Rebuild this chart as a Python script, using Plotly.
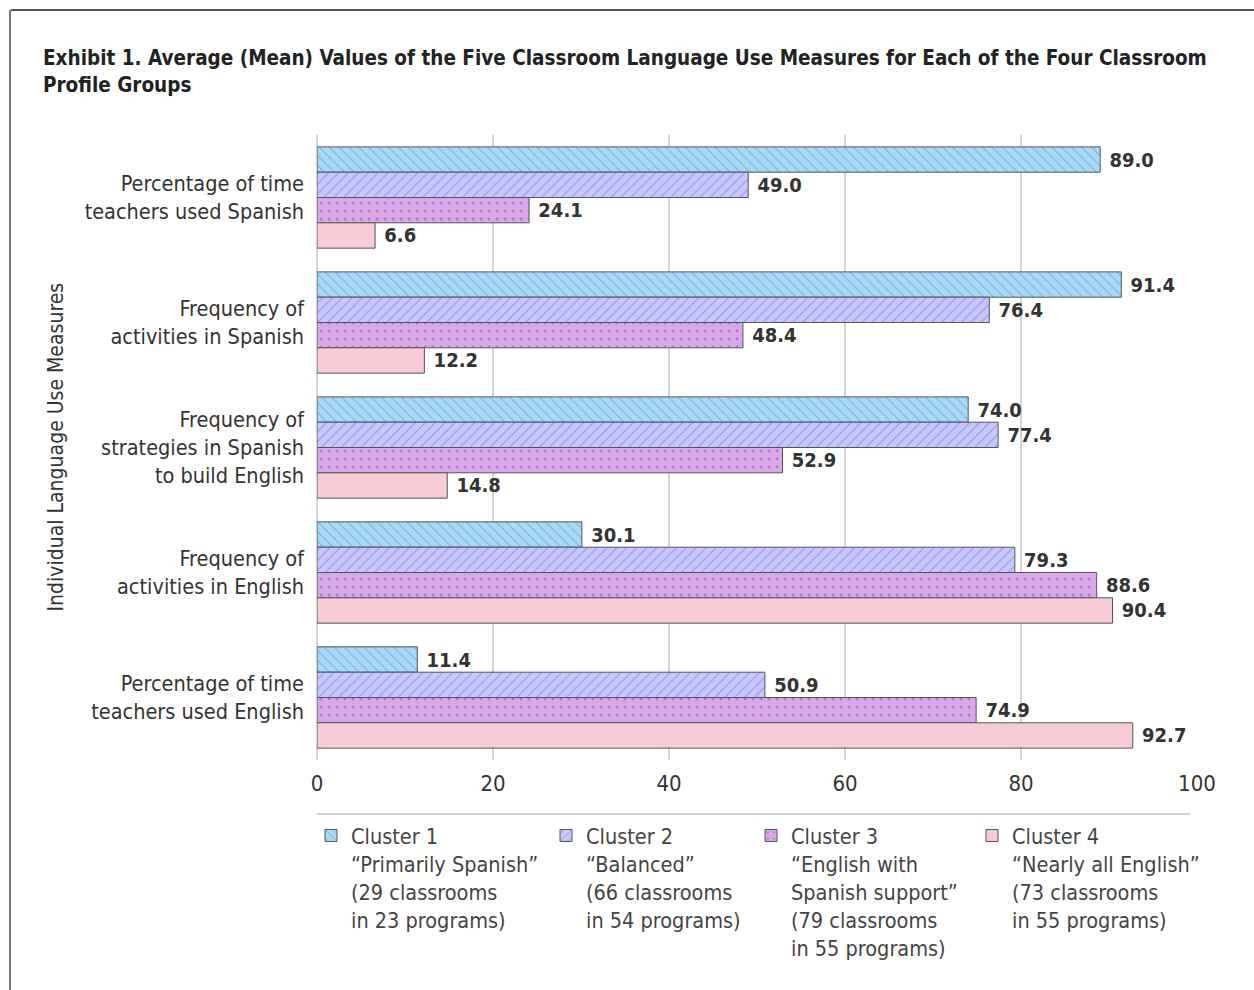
import plotly.graph_objects as go

categories = [
    "Percentage of time<br>teachers used Spanish",
    "Frequency of<br>activities in Spanish",
    "Frequency of<br>strategies in Spanish<br>to build English",
    "Frequency of<br>activities in English",
    "Percentage of time<br>teachers used English",
]
cluster1 = [89.0, 91.4, 74.0, 30.1, 11.4]
cluster2 = [49.0, 76.4, 77.4, 79.3, 50.9]
cluster3 = [24.1, 48.4, 52.9, 88.6, 74.9]
cluster4 = [6.6, 12.2, 14.8, 90.4, 92.7]

series_names = [
    "Cluster 1<br>“Primarily Spanish”<br>(29 classrooms<br>in 23 programs)",
    "Cluster 2<br>“Balanced”<br>(66 classrooms<br>in 54 programs)",
    "Cluster 3<br>“English with<br>Spanish support”<br>(79 classrooms<br>in 55 programs)",
    "Cluster 4<br>“Nearly all English”<br>(73 classrooms<br>in 55 programs)",
]
x_ticks = [0, 20, 40, 60, 80, 100]

FONT = "DejaVu Sans Condensed, Liberation Sans Narrow, sans-serif"

# plot area in pixels
L, R, T, B = 317, 1197, 135, 760
W, H = 1254, 990
PW, PH = R - L, B - T


def px_x(px):
    return (px - L) / PW


def px_y(py):
    return (B - py) / PH


styles = [
    dict(color="#a8daf8", pattern=dict(shape="\\", fgcolor="#4a82b8", size=7, solidity=0.15)),
    dict(color="#c8c8ff", pattern=dict(shape="/", fgcolor="#5858e0", size=7, solidity=0.15)),
    dict(color="#d8a8e8", pattern=dict(shape=".", fgcolor="#8a40a8", size=8, solidity=0.1)),
    dict(color="#f7ccd6", pattern=None),
]
values = [cluster1, cluster2, cluster3, cluster4]
legend_ids = ["legend", "legend2", "legend3", "legend4"]
legend_x = [326, 561, 766, 987]

fig = go.Figure()
for i in range(4):
    marker = dict(color=styles[i]["color"], line=dict(color="#555555", width=1))
    if styles[i]["pattern"]:
        marker["pattern"] = styles[i]["pattern"]
    fig.add_trace(go.Bar(
        y=categories,
        x=values[i],
        orientation="h",
        name=series_names[i],
        marker=marker,
        texttemplate=" %{x:.1f}",
        textposition="outside",
        textfont=dict(family=FONT, size=20, color="#333333", weight="bold"),
        cliponaxis=False,
        legend=legend_ids[i],
    ))

layout_legends = {}
for i, lid in enumerate(legend_ids):
    layout_legends[lid] = dict(
        x=px_x(legend_x[i] - 15), y=px_y(815), xanchor="left", yanchor="top",
        xref="paper", yref="paper",
        font=dict(family=FONT, size=21.5, color="#444444"),
        valign="top", bgcolor="rgba(0,0,0,0)", itemwidth=30,
    )

fig.update_layout(
    width=W, height=H,
    margin=dict(l=L, r=W - R, t=T, b=H - B, autoexpand=False),
    paper_bgcolor="white", plot_bgcolor="white",
    barmode="group", bargap=0.19, bargroupgap=0,
    showlegend=True,
    title=dict(
        text="<b>Exhibit 1. Average (Mean) Values of the Five Classroom Language Use Measures for Each of the Four Classroom<br>Profile Groups</b>",
        x=43 / W, xref="container", xanchor="left",
        y=1 - 65 / H, yref="container", yanchor="top",
        font=dict(family=FONT, size=20.5, color="#222222"),
    ),
    xaxis=dict(
        range=[0, 100], tickvals=x_ticks, ticktext=[str(v) for v in x_ticks],
        showgrid=True, gridcolor="#d4d4d4", gridwidth=2,
        zeroline=True, zerolinecolor="#d4d4d4", zerolinewidth=2,
        showline=False, ticks="", ticklabelstandoff=8,
        tickfont=dict(family=FONT, size=22, color="#333333"),
    ),
    yaxis=dict(
        autorange="reversed", showgrid=False, showline=False, ticks="",
        ticklabelstandoff=12,
        tickfont=dict(family=FONT, size=21.5, color="#333333"),
    ),
    **layout_legends,
)

fig.add_annotation(
    text="Individual Language Use Measures", textangle=-90,
    x=px_x(55), y=0.5, xref="paper", yref="paper", showarrow=False,
    xanchor="center", yanchor="middle",
    font=dict(family=FONT, size=21, color="#333333"),
)

# frame lines and legend separator
fig.add_shape(type="line", xref="paper", yref="paper",
              x0=px_x(11), x1=px_x(W + 5), y0=px_y(10), y1=px_y(10),
              line=dict(color="#555555", width=2))
fig.add_shape(type="line", xref="paper", yref="paper",
              x0=px_x(10), x1=px_x(10), y0=px_y(10), y1=px_y(H + 5),
              line=dict(color="#777777", width=2))
fig.add_shape(type="line", xref="paper", yref="paper",
              x0=px_x(317), x1=px_x(1190), y0=px_y(814), y1=px_y(814),
              line=dict(color="#d0d0d0", width=2))

fig.write_html("out.html")
